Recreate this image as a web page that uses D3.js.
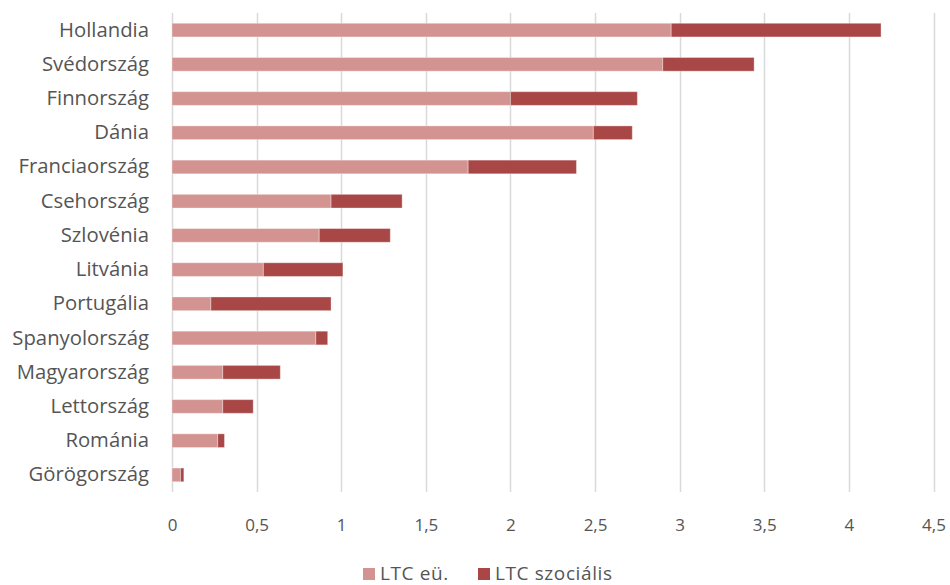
<!DOCTYPE html>
<html>
<head>
<meta charset="utf-8">
<script src="https://cdn.jsdelivr.net/npm/d3@7"></script>
<style>
  html, body { margin: 0; padding: 0; background: #fff; }
  svg { display: block; }
  text { font-family: "Open Sans", "Liberation Sans", sans-serif; fill: #555; }
</style>
</head>
<body>
<svg id="chart" width="950" height="585"></svg>
<script>
// Long-term care spending (% of GDP): health vs. social component
const countries = ["Hollandia", "Svédország", "Finnország", "Dánia", "Franciaország",
  "Csehország", "Szlovénia", "Litvánia", "Portugália", "Spanyolország",
  "Magyarország", "Lettország", "Románia", "Görögország"];
const ltcHealth = [2.95, 2.90, 2.00, 2.49, 1.75, 0.94, 0.87, 0.54, 0.23, 0.85, 0.30, 0.30, 0.27, 0.05];
const ltcSocial = [1.24, 0.54, 0.75, 0.23, 0.64, 0.42, 0.42, 0.47, 0.71, 0.07, 0.34, 0.18, 0.04, 0.02];
const seriesNames = ["LTC eü.", "LTC szociális"];
const seriesColors = ["#d39391", "#a84745"];
const xTicks = [0, 0.5, 1, 1.5, 2, 2.5, 3, 3.5, 4, 4.5];

const svg = d3.select("#chart");
const margin = { left: 172, right: 16, top: 13, bottom: 93 };
const W = 950, H = 585;
const FONT = "'Open Sans', 'Liberation Sans', sans-serif";
const TEXT = "#555";

const x = d3.scaleLinear().domain([0, 4.5]).range([margin.left, W - margin.right - 0.5]);
const y = d3.scaleBand().domain(countries).range([margin.top, H - margin.bottom]).paddingInner(0.6).paddingOuter(0.3);

const fmt = d => String(d).replace(".", ",");

// vertical gridlines
svg.append("g")
  .selectAll("line")
  .data(xTicks)
  .join("line")
  .attr("x1", d => Math.round(x(d)) + 0.5)
  .attr("x2", d => Math.round(x(d)) + 0.5)
  .attr("y1", margin.top)
  .attr("y2", H - margin.bottom)
  .attr("stroke", "#d9d9d9")
  .attr("stroke-width", 1.5);

// x axis tick labels
const xAxis = d3.axisBottom(x).tickValues(xTicks).tickFormat(fmt).tickSize(0).tickPadding(0);
const gx = svg.append("g").attr("transform", `translate(0, ${H - margin.bottom + 27})`).call(xAxis);
gx.select(".domain").remove();
gx.selectAll("text").attr("font-size", 17).attr("fill", TEXT).attr("dy", "0.71em")
  .style("font-family", FONT);

// y axis category labels
const yAxis = d3.axisLeft(y).tickSize(0).tickPadding(23);
const gy = svg.append("g").attr("transform", `translate(${margin.left}, 0)`).call(yAxis);
gy.select(".domain").remove();
gy.selectAll("text").attr("font-size", 20.3).attr("fill", TEXT)
  .style("font-family", FONT);

// stacked bars
const rows = countries.map((c, i) => ({ country: c, health: ltcHealth[i], social: ltcSocial[i] }));
const stack = d3.stack().keys(["health", "social"])(rows);

svg.append("g")
  .selectAll("g")
  .data(stack)
  .join("g")
  .attr("fill", (d, i) => seriesColors[i])
  .selectAll("rect")
  .data(d => d)
  .join("rect")
  .attr("x", d => x(d[0]))
  .attr("y", d => y(d.data.country))
  .attr("width", d => x(d[1]) - x(d[0]))
  .attr("height", y.bandwidth())
  .attr("stroke", "#fff")
  .attr("stroke-opacity", 0.35)
  .attr("stroke-width", 1);

// legend
const legend = svg.append("g").attr("transform", "translate(0, 574)");
const legendX = [363, 478];
seriesNames.forEach((name, i) => {
  const g = legend.append("g").attr("transform", `translate(${legendX[i]}, 0)`);
  g.append("rect").attr("x", 0).attr("y", -6).attr("width", 12).attr("height", 12).attr("fill", seriesColors[i]);
  g.append("text").attr("x", 17).attr("y", 6).attr("font-size", 19)
    .attr("letter-spacing", 0.6).text(name);
});
</script>
</body>
</html>
